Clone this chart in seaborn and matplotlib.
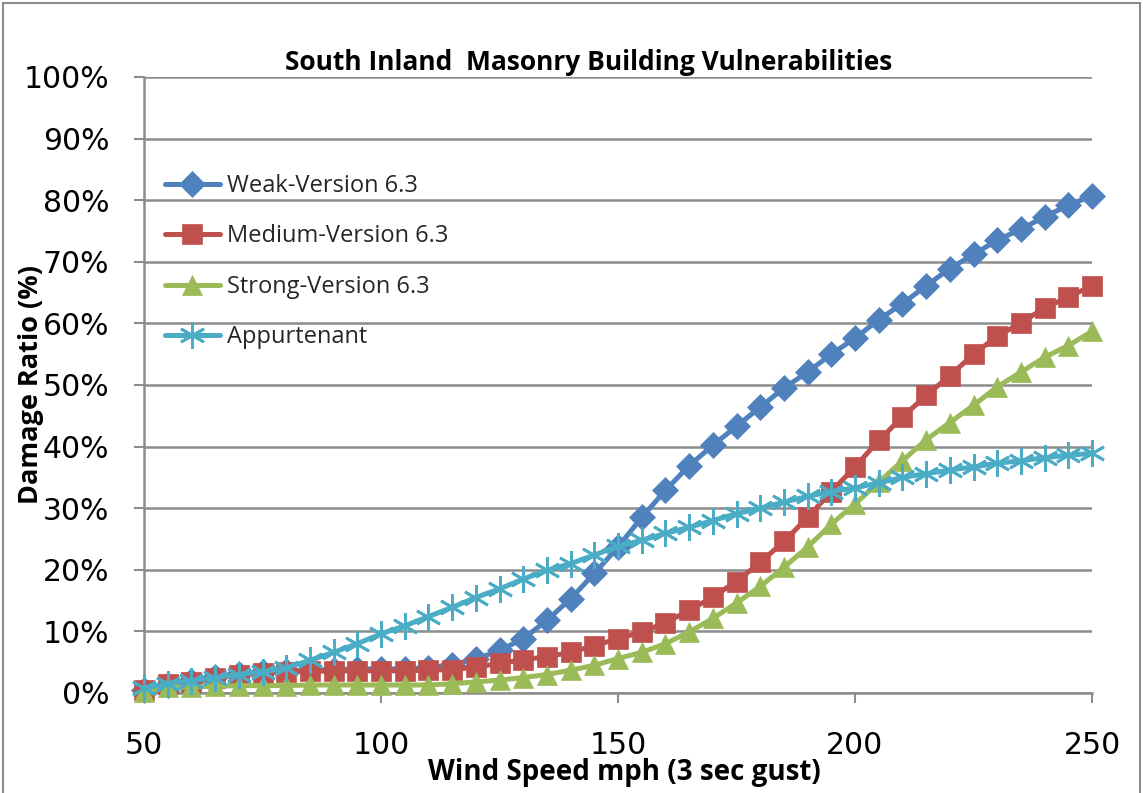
import matplotlib
matplotlib.use("Agg")
import matplotlib.pyplot as plt
import seaborn as sns
import pandas as pd
import numpy as np
from matplotlib.patches import Rectangle
from matplotlib.ticker import PercentFormatter

wind_speed = list(range(50, 255, 5))

weak = [0.5, 1.3, 1.9, 2.6, 3.1, 3.4, 3.6, 3.7, 3.8, 3.9, 3.9, 3.9, 4.1, 4.6, 5.5,
        6.9, 8.8, 11.8, 15.3, 19.4, 23.7, 28.5, 32.9, 36.9, 40.2, 43.3, 46.4, 49.5,
        52.1, 55.0, 57.6, 60.6, 63.2, 66.1, 68.9, 71.2, 73.5, 75.3, 77.3, 79.2, 80.7]
medium = [0.5, 1.4, 1.8, 2.4, 2.9, 3.2, 3.4, 3.5, 3.6, 3.6, 3.6, 3.6, 3.7, 3.8, 4.2,
          4.8, 5.4, 5.9, 6.6, 7.7, 8.8, 9.9, 11.4, 13.4, 15.6, 18.1, 21.2, 24.6,
          28.5, 32.7, 36.7, 41.0, 44.8, 48.3, 51.5, 55.0, 57.9, 60.1, 62.5, 64.3, 66.1]
strong = [0.2, 0.9, 1.0, 1.1, 1.2, 1.2, 1.2, 1.3, 1.3, 1.3, 1.3, 1.3, 1.3, 1.5, 1.8,
          2.1, 2.5, 3.0, 3.7, 4.5, 5.6, 6.6, 8.0, 9.9, 12.1, 14.6, 17.3, 20.4,
          23.7, 27.4, 30.7, 34.2, 37.7, 41.1, 43.9, 46.7, 49.7, 52.1, 54.5, 56.4, 58.7]
appurtenant = [0.8, 1.5, 2.0, 2.5, 3.0, 3.4, 4.1, 5.3, 6.6, 8.0, 9.6, 10.9, 12.4, 13.9, 15.5,
               16.9, 18.5, 19.9, 21.0, 22.4, 23.8, 24.8, 25.9, 26.9, 28.0, 29.1, 30.0, 31.0,
               31.9, 32.7, 33.3, 34.1, 35.0, 35.6, 36.2, 36.7, 37.3, 37.7, 38.2, 38.6, 38.9]

series_names = ["Weak-Version 6.3", "Medium-Version 6.3", "Strong-Version 6.3", "Appurtenant"]
series_values = [weak, medium, strong, appurtenant]
colors = ["#4F81BD", "#C0504D", "#9BBB59", "#4BACC6"]
markers = ["D", "s", "^", (6, 2, 0)]
marker_sizes = [13, 14, 15, 19]

frames = []
for name, vals in zip(series_names, series_values):
    frames.append(pd.DataFrame({"Wind Speed": wind_speed,
                                "Damage": np.array(vals) / 100.0,
                                "Series": name}))
df = pd.concat(frames, ignore_index=True)

sns.set_theme(style="white")
plt.rcParams["font.family"] = ["DejaVu Sans"]

fig = plt.figure(figsize=(11.43, 7.93), dpi=100)
ax = fig.add_axes([144 / 1143, 1 - 693 / 793, 948 / 1143, 616 / 793])

for name, vals, c, m, ms in zip(series_names, series_values, colors, markers, marker_sizes):
    sub = df[df["Series"] == name]
    sns.lineplot(data=sub, x="Wind Speed", y="Damage", ax=ax, color=c,
                 marker=m, markersize=ms, linewidth=3.6, label=name,
                 markeredgecolor=c, markeredgewidth=2.0 if m == (6, 2, 0) else 0.5,
                 clip_on=False, zorder=3)

ax.set_xlim(50, 250)
ax.set_ylim(0, 1.0)
ax.set_yticks(np.arange(0, 1.01, 0.1))
ax.yaxis.set_major_formatter(PercentFormatter(1.0, decimals=0))
ax.set_xticks([50, 100, 150, 200, 250])
ax.grid(axis="y", color="#8c8c8c", linewidth=1.8)
ax.grid(axis="x", visible=False)
for s in ["top", "right"]:
    ax.spines[s].set_visible(False)
for s in ["left", "bottom"]:
    ax.spines[s].set_color("#8c8c8c")
    ax.spines[s].set_linewidth(1.8)
ax.tick_params(axis="y", which="major", direction="out", length=7, width=1.5,
               color="#8c8c8c", pad=18, labelsize=21.5, left=True)
ax.tick_params(axis="x", which="major", direction="out", length=7, width=1.5,
               color="#8c8c8c", pad=20, labelsize=21.5, bottom=True)
for lab in ax.get_xticklabels() + ax.get_yticklabels():
    lab.set_color("black")

label_font = ["Liberation Sans Narrow", "Open Sans", "DejaVu Sans"]
ax.set_xlabel("Wind Speed mph (3 sec gust)", fontsize=20, fontweight="bold",
              family=label_font, color="black")
ax.xaxis.set_label_coords(0.507, -0.105)
ax.set_ylabel("Damage Ratio (%)", fontsize=19.5, fontweight="bold",
              family=label_font, color="black")
ax.yaxis.set_label_coords(-0.105, 0.5)
ax.text(0.469, 1.024, "South Inland  Masonry Building Vulnerabilities",
        transform=ax.transAxes, ha="center", va="center", fontsize=19,
        fontweight="bold", family=label_font, color="black")

leg = ax.legend(loc="upper left", bbox_to_anchor=(0.0, 0.877), frameon=False,
                handlelength=2.3, handletextpad=0.3, labelspacing=1.12,
                prop={"family": ["Open Sans", "DejaVu Sans"], "size": 17})

fig.patches.append(Rectangle((3 / 1143, -0.01), 1137 / 1143, 1 - 3 / 793 + 0.01,
                             transform=fig.transFigure, fill=False,
                             edgecolor="#8c8c8c", linewidth=1.5))

fig.savefig("out.png", dpi=100)
